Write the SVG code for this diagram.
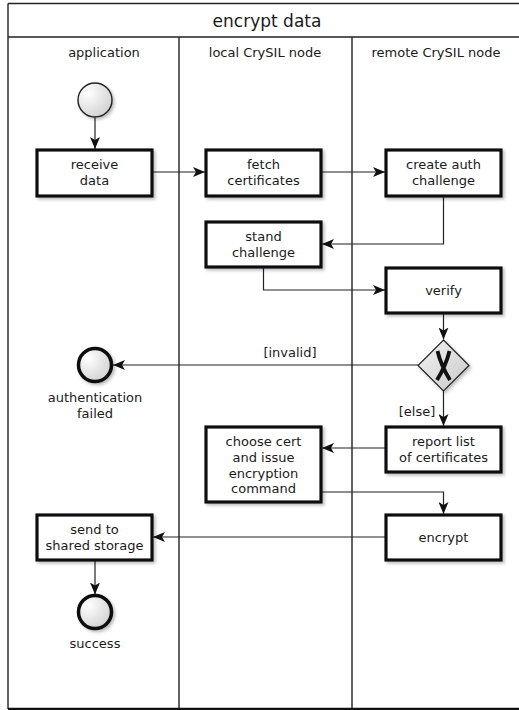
<svg xmlns="http://www.w3.org/2000/svg" width="519" height="710" viewBox="0 0 519 710">
<style>
text{font-family:"DejaVu Sans","Liberation Sans",sans-serif;fill:#1a1a1a;text-anchor:middle}
.t{font-size:13px}
.title{font-size:17px}
.frame{fill:none;stroke:#222;stroke-width:1.4}
.box{fill:#fff;stroke:#111;stroke-width:3.2}
.c{fill:none;stroke:#222;stroke-width:1.2}
</style>
<defs>
<marker id="arr" viewBox="0 0 12 10" refX="12" refY="5" markerWidth="12" markerHeight="10" markerUnits="userSpaceOnUse" orient="auto">
<path d="M0,0 L12,5 L0,10 L3,5 z" fill="#111"/>
</marker>
<radialGradient id="g" cx="0.3" cy="0.3" r="0.8">
<stop offset="0" stop-color="#ffffff"/>
<stop offset="1" stop-color="#d0d0d0"/>
</radialGradient>
<linearGradient id="gd" x1="0" y1="0" x2="1" y2="1">
<stop offset="0" stop-color="#f4f4f4"/>
<stop offset="1" stop-color="#c8c8c8"/>
</linearGradient>
<filter id="sh" x="-20%" y="-20%" width="150%" height="150%">
<feDropShadow dx="2" dy="2" stdDeviation="1.5" flood-color="#000" flood-opacity="0.25"/>
</filter>
</defs>
<g id="frame">
<path class="frame" d="M8,3.5 H525 M8,37 H525 M8,3.5 V709 M179,37 V709 M352,37 V709"/>
<path d="M8,709 H525" stroke="#111" stroke-width="2.5"/>
<text class="title" x="267" y="27">encrypt data</text>
<text class="t" x="104" y="57">application</text>
<text class="t" x="265" y="57">local CrySIL node</text>
<text class="t" x="436" y="57">remote CrySIL node</text>
</g>
<g id="connectors">
<path class="c" d="M95,117.5 V149" marker-end="url(#arr)"/>
<path class="c" d="M153,172 H205" marker-end="url(#arr)"/>
<path class="c" d="M322,172 H385" marker-end="url(#arr)"/>
<path class="c" d="M443.5,197 V244 H322" marker-end="url(#arr)"/>
<path class="c" d="M263.5,268 V290 H385" marker-end="url(#arr)"/>
<path class="c" d="M443.5,313 V339.5" marker-end="url(#arr)"/>
<path class="c" d="M418,365 H113" marker-end="url(#arr)"/>
<text class="t" x="290" y="357">[invalid]</text>
<path class="c" d="M443.5,391 V426" marker-end="url(#arr)"/>
<text class="t" x="417" y="416">[else]</text>
<path class="c" d="M385,448 H322" marker-end="url(#arr)"/>
<path class="c" d="M322,492 H443.5 V514" marker-end="url(#arr)"/>
<path class="c" d="M385,537 H153" marker-end="url(#arr)"/>
<path class="c" d="M95,561 V594.5" marker-end="url(#arr)"/>
</g>
<g id="start">
<circle cx="95" cy="100" r="17" fill="url(#g)" stroke="#222" stroke-width="1.4" filter="url(#sh)"/>
</g>
<g id="receive-data">
<rect class="box" x="37" y="150" width="115" height="46" filter="url(#sh)"/>
<text class="t" x="94.5" y="169">receive</text>
<text class="t" x="94.5" y="185">data</text>
</g>
<g id="fetch-certificates">
<rect class="box" x="206" y="150" width="115" height="46" filter="url(#sh)"/>
<text class="t" x="263.5" y="169">fetch</text>
<text class="t" x="263.5" y="185">certificates</text>
</g>
<g id="create-auth-challenge">
<rect class="box" x="386" y="150" width="115" height="46" filter="url(#sh)"/>
<text class="t" x="443.5" y="169">create auth</text>
<text class="t" x="443.5" y="185">challenge</text>
</g>
<g id="stand-challenge">
<rect class="box" x="206" y="222" width="115" height="45" filter="url(#sh)"/>
<text class="t" x="263.5" y="241">stand</text>
<text class="t" x="263.5" y="257">challenge</text>
</g>
<g id="verify">
<rect class="box" x="386" y="268" width="115" height="45" filter="url(#sh)"/>
<text class="t" x="443.5" y="295">verify</text>
</g>
<g id="gateway">
<path d="M443.5,340 L469,365.5 L443.5,391 L418,365.5 Z" fill="url(#gd)" stroke="#222" stroke-width="1.2" filter="url(#sh)"/>
<path d="M437.5,351 Q441,365.5 450,380 M449.5,351 Q446,365.5 437,380" fill="none" stroke="#111" stroke-width="3.8" stroke-linecap="butt"/>
</g>
<g id="auth-failed">
<circle cx="95" cy="365" r="16.5" fill="url(#g)" stroke="#111" stroke-width="3.5" filter="url(#sh)"/>
<text class="t" x="95" y="402">authentication</text>
<text class="t" x="95" y="418">failed</text>
</g>
<g id="report-list">
<rect class="box" x="386" y="427" width="115" height="45" filter="url(#sh)"/>
<text class="t" x="443.5" y="446">report list</text>
<text class="t" x="443.5" y="462">of certificates</text>
</g>
<g id="choose-cert">
<rect class="box" x="206" y="427" width="115" height="75" filter="url(#sh)"/>
<text class="t" x="263.5" y="445.5">choose cert</text>
<text class="t" x="263.5" y="461.5">and  issue</text>
<text class="t" x="263.5" y="477.5">encryption</text>
<text class="t" x="263.5" y="493">command</text>
</g>
<g id="encrypt">
<rect class="box" x="386" y="515" width="115" height="45" filter="url(#sh)"/>
<text class="t" x="443.5" y="542">encrypt</text>
</g>
<g id="send-to-storage">
<rect class="box" x="37" y="515" width="115" height="45" filter="url(#sh)"/>
<text class="t" x="94.5" y="533.5">send to</text>
<text class="t" x="94.5" y="549.5">shared storage</text>
</g>
<g id="success">
<circle cx="95" cy="612" r="16.5" fill="url(#g)" stroke="#111" stroke-width="3.5" filter="url(#sh)"/>
<text class="t" x="95" y="648">success</text>
</g>
</svg>
